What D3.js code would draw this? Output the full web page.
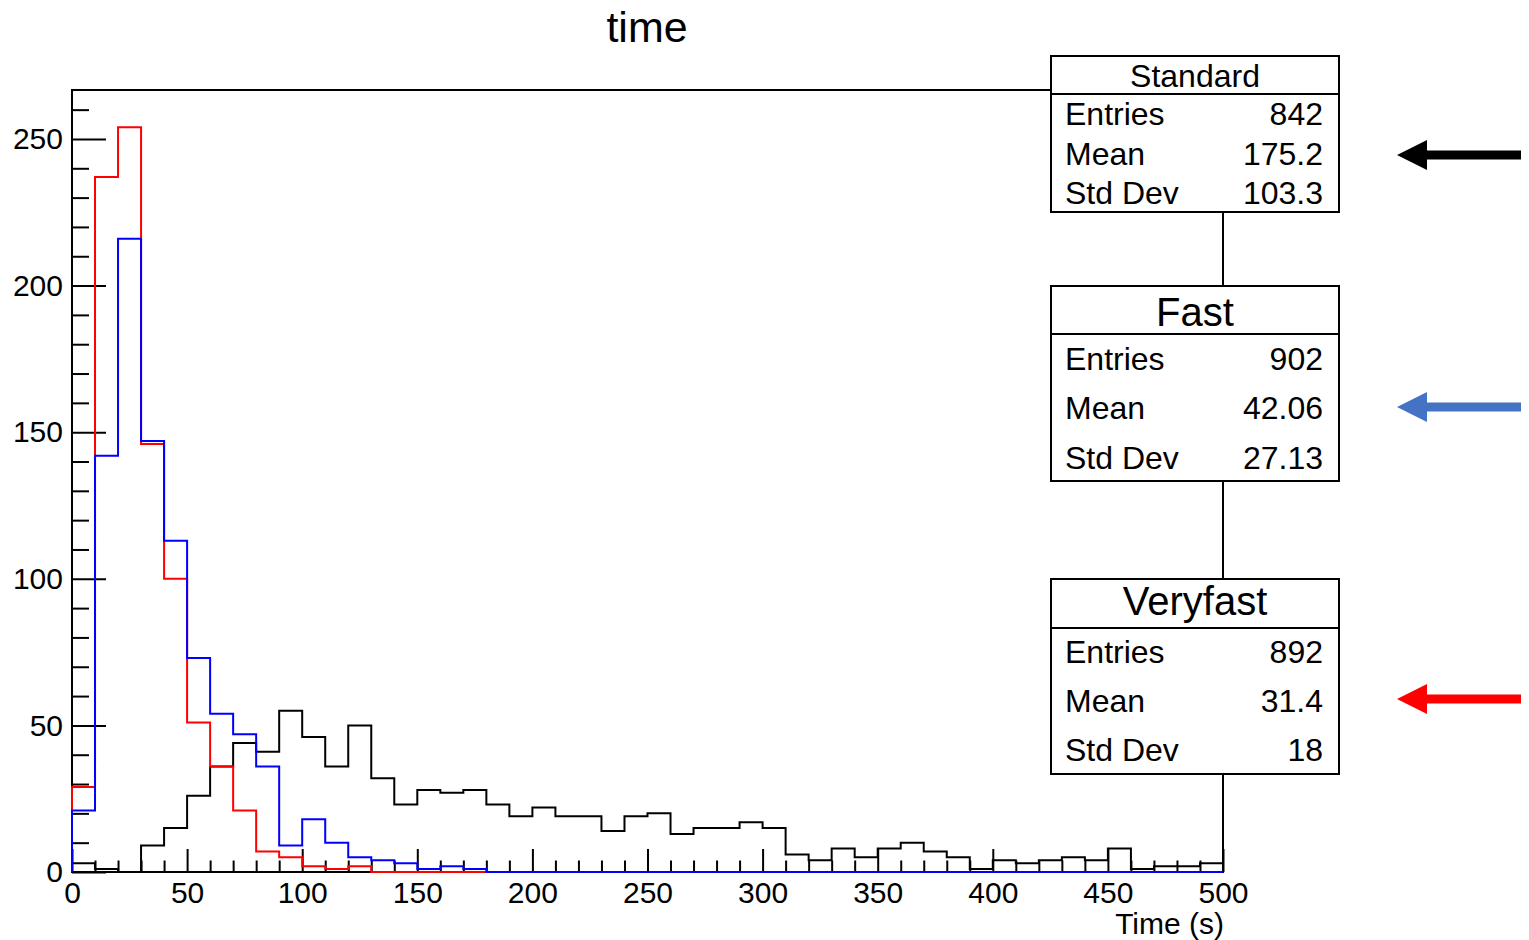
<!DOCTYPE html>
<html>
<head>
<meta charset="utf-8">
<script src="https://cdn.jsdelivr.net/npm/d3@7"></script>
<style>
  html, body { margin: 0; padding: 0; background: #fff; }
  svg { display: block; font-family: "Liberation Sans", Arial, Helvetica, sans-serif; }
</style>
</head>
<body>
<svg id="chart" width="1529" height="940"></svg>
<script>
// Histogram binning: 50 bins of 10 s between 0 and 500 s
const binStart = 0;
const binWidth = 10;

// Bin contents per configuration (counts per 10 s bin)
const standardCounts = [3, 1, 0, 9, 15, 26, 36, 44, 41, 55,
                        46, 36, 50, 32, 23, 28, 27, 28, 23, 19,
                        22, 19, 19, 14, 19, 20, 13, 15, 15, 17,
                        15, 6, 4, 8, 5, 8, 10, 7, 5, 1,
                        4, 3, 4, 5, 4, 8, 1, 2, 2, 3];
const fastCounts = [21, 142, 216, 147, 113, 73, 54, 47, 36, 9,
                    18, 10, 5, 4, 3, 1, 2, 1, 0, 0,
                    0, 0, 0, 0, 0, 0, 0, 0, 0, 0,
                    0, 0, 0, 0, 0, 0, 0, 0, 0, 0,
                    0, 0, 0, 0, 0, 0, 0, 0, 0, 0];
const veryfastCounts = [29, 237, 254, 146, 100, 51, 36, 21, 7, 5,
                        2, 1, 2, 0, 0, 0, 0, 0, 0, 0,
                        0, 0, 0, 0, 0, 0, 0, 0, 0, 0,
                        0, 0, 0, 0, 0, 0, 0, 0, 0, 0,
                        0, 0, 0, 0, 0, 0, 0, 0, 0, 0];

// Axis ticks
const xMajorTicks = [0, 50, 100, 150, 200, 250, 300, 350, 400, 450, 500];
const xMinorTicks = [10, 20, 30, 40, 60, 70, 80, 90, 110, 120, 130, 140, 160, 170, 180, 190,
                     210, 220, 230, 240, 260, 270, 280, 290, 310, 320, 330, 340, 360, 370, 380, 390,
                     410, 420, 430, 440, 460, 470, 480, 490];
const yMajorTicks = [0, 50, 100, 150, 200, 250];
const yMinorTicks = [10, 20, 30, 40, 60, 70, 80, 90, 110, 120, 130, 140, 160, 170, 180, 190,
                     210, 220, 230, 240, 260];
const xDomain = [0, 500];
const yDomain = [0, 266.7];

// Statistics boxes
const statTitles = ["Standard", "Fast", "Veryfast"];
const statEntries = ["842", "902", "892"];
const statMeans = ["175.2", "42.06", "31.4"];
const statStdDevs = ["103.3", "27.13", "18"];

const titleText = "time";
const xAxisTitle = "Time (s)";

const svg = d3.select("#chart");

const x = d3.scaleLinear().domain(xDomain).range([72, 1223]);
const y = d3.scaleLinear().domain(yDomain).range([872, 90]);

// Title
svg.append("text")
  .attr("x", 647).attr("y", 42)
  .attr("text-anchor", "middle")
  .attr("font-size", 43)
  .text(titleText);

// Step outline of a histogram, closed to the baseline at both ends
function stepPath(counts) {
  const pts = [[x(binStart), y(0)]];
  counts.forEach((c, i) => {
    const lo = binStart + i * binWidth, hi = lo + binWidth;
    pts.push([x(lo), y(c)], [x(hi), y(c)]);
  });
  pts.push([x(binStart + counts.length * binWidth), y(0)]);
  return d3.line()(pts);
}

const series = [
  { counts: standardCounts, color: "#000000" },
  { counts: veryfastCounts, color: "#ff0000" },
  { counts: fastCounts, color: "#0000ff" }
];

// Frame
svg.append("rect")
  .attr("x", x(0)).attr("y", y(yDomain[1]))
  .attr("width", x(xDomain[1]) - x(0))
  .attr("height", y(0) - y(yDomain[1]))
  .attr("fill", "none").attr("stroke", "#000").attr("stroke-width", 2);

// Axes (ticks point inward)
function styleAxis(g) {
  g.select(".domain").remove();
  g.selectAll(".tick line").attr("stroke", "#000").attr("stroke-width", 2);
  g.selectAll(".tick text").attr("fill", "#000").attr("font-size", 30)
    .attr("font-family", "'Liberation Sans', Arial, Helvetica, sans-serif");
}

svg.append("g").attr("transform", `translate(0,${y(0)})`)
  .call(d3.axisBottom(x).tickValues(xMinorTicks).tickSize(-11.5).tickFormat(""))
  .call(styleAxis);
svg.append("g").attr("transform", `translate(0,${y(0)})`)
  .call(d3.axisBottom(x).tickValues(xMajorTicks).tickSize(-23).tickPadding(10).tickFormat(d3.format("d")))
  .call(styleAxis);

svg.append("g").attr("transform", `translate(${x(0)},0)`)
  .call(d3.axisLeft(y).tickValues(yMinorTicks).tickSize(-17).tickFormat(""))
  .call(styleAxis);
svg.append("g").attr("transform", `translate(${x(0)},0)`)
  .call(d3.axisLeft(y).tickValues(yMajorTicks).tickSize(-34).tickPadding(9).tickFormat(d3.format("d")))
  .call(styleAxis);

// Histograms
svg.append("g").selectAll("path")
  .data(series).join("path")
  .attr("d", d => stepPath(d.counts))
  .attr("fill", "none")
  .attr("stroke", d => d.color)
  .attr("stroke-width", 2)
  .attr("stroke-linejoin", "miter");

// X axis title
svg.append("text")
  .attr("x", 1224).attr("y", 934)
  .attr("text-anchor", "end")
  .attr("font-size", 30)
  .text(xAxisTitle);

// Statistics boxes
const boxes = [
  { top: 56, divider: 94, bottom: 212, titleY: 87, titleSize: 32, rows: [125, 165, 204] },
  { top: 286, divider: 334, bottom: 481, titleY: 326, titleSize: 40, rows: [370, 419, 469] },
  { top: 579, divider: 628, bottom: 774, titleY: 615, titleSize: 40, rows: [663, 712, 761] }
];
const boxLeft = 1051, boxRight = 1339;

boxes.forEach((b, i) => {
  const g = svg.append("g");
  g.append("rect")
    .attr("x", boxLeft).attr("y", b.top)
    .attr("width", boxRight - boxLeft).attr("height", b.bottom - b.top)
    .attr("fill", "#fff").attr("stroke", "#000").attr("stroke-width", 2);
  g.append("line")
    .attr("x1", boxLeft).attr("x2", boxRight)
    .attr("y1", b.divider).attr("y2", b.divider)
    .attr("stroke", "#000").attr("stroke-width", 2);
  g.append("text")
    .attr("x", (boxLeft + boxRight) / 2).attr("y", b.titleY)
    .attr("text-anchor", "middle").attr("font-size", b.titleSize)
    .text(statTitles[i]);
  const labels = ["Entries", "Mean", "Std Dev"];
  const values = [statEntries[i], statMeans[i], statStdDevs[i]];
  labels.forEach((lab, j) => {
    g.append("text").attr("x", 1065).attr("y", b.rows[j])
      .attr("font-size", 32).text(lab);
    g.append("text").attr("x", 1323).attr("y", b.rows[j])
      .attr("text-anchor", "end").attr("font-size", 32).text(values[j]);
  });
});

// Arrows pointing at each statistics box
const arrowRows = [155, 407, 699];
const arrowColors = ["#000000", "#4472c4", "#ff0000"];
arrowRows.forEach((ay, i) => {
  const tip = 1397, neck = 1427, tail = 1521, half = 15, shaft = 4.5;
  const pts = [[tip, ay], [neck, ay - half], [neck, ay - shaft], [tail, ay - shaft],
               [tail, ay + shaft], [neck, ay + shaft], [neck, ay + half]];
  svg.append("path")
    .attr("d", d3.line()(pts) + "Z")
    .attr("fill", arrowColors[i]);
});
</script>
</body>
</html>
